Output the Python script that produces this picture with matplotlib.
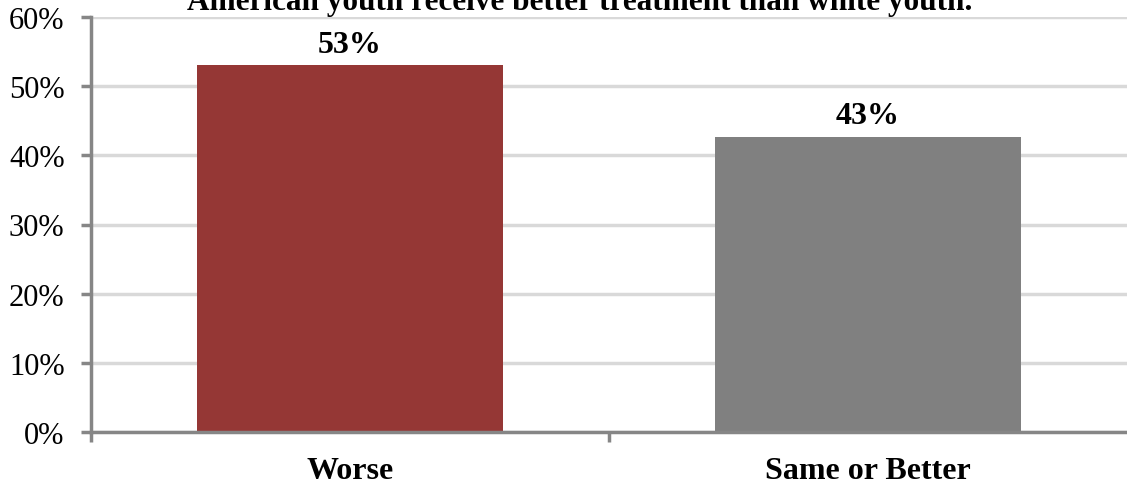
import matplotlib.pyplot as plt
from matplotlib.ticker import FixedLocator, PercentFormatter

# Data
categories = ['Worse', 'Same or Better']
values = [0.53, 0.427]
value_labels = ['53%', '43%']
bar_colors = ['#953735', '#808080']
title_line = 'American youth receive better treatment than white youth.'

plt.rcParams['font.family'] = ['Liberation Serif', 'DejaVu Serif']

fig = plt.figure(figsize=(11.27, 4.89), dpi=100)
ax = fig.add_axes([91 / 1127, 1 - 433 / 489, 1036 / 1127, 415 / 489])

x = range(len(categories))
ax.bar(x, values, width=0.59, color=bar_colors, zorder=3)

for xi, v, lab in zip(x, values, value_labels):
    ax.text(xi, v + 0.009, lab, ha='center', va='bottom',
            fontsize=23, fontweight='bold', zorder=4)

ax.set_xlim(-0.5, len(categories) - 0.5)
ax.set_ylim(0, 0.6)
ax.set_yticks([i / 10 for i in range(7)])
ax.yaxis.set_major_formatter(PercentFormatter(1.0, decimals=0))
ax.grid(axis='y', color='#D9D9D9', linewidth=2.5, zorder=0)

# category boundary ticks, labels in the middle
ax.xaxis.set_major_locator(FixedLocator([-0.5, 0.5]))
ax.xaxis.set_minor_locator(FixedLocator(list(x)))
ax.set_xticklabels([], minor=False)
ax.set_xticklabels(categories, minor=True, fontsize=23, fontweight='bold')
ax.tick_params(axis='x', which='minor', length=0, pad=17)
ax.tick_params(axis='x', which='major', length=7, width=2.5, color='#868686')
ax.tick_params(axis='y', length=7, width=2.5, color='#868686', labelsize=22, pad=12)

for side in ['top', 'right']:
    ax.spines[side].set_visible(False)
for side in ['left', 'bottom']:
    ax.spines[side].set_color('#868686')
    ax.spines[side].set_linewidth(2.5)
    ax.spines[side].set_zorder(5)

fig.text(580 / 1127, 1 - 10 / 489, title_line, ha='center', va='baseline',
         fontsize=22.5, fontweight='bold')

fig.savefig('out.png', dpi=100)
